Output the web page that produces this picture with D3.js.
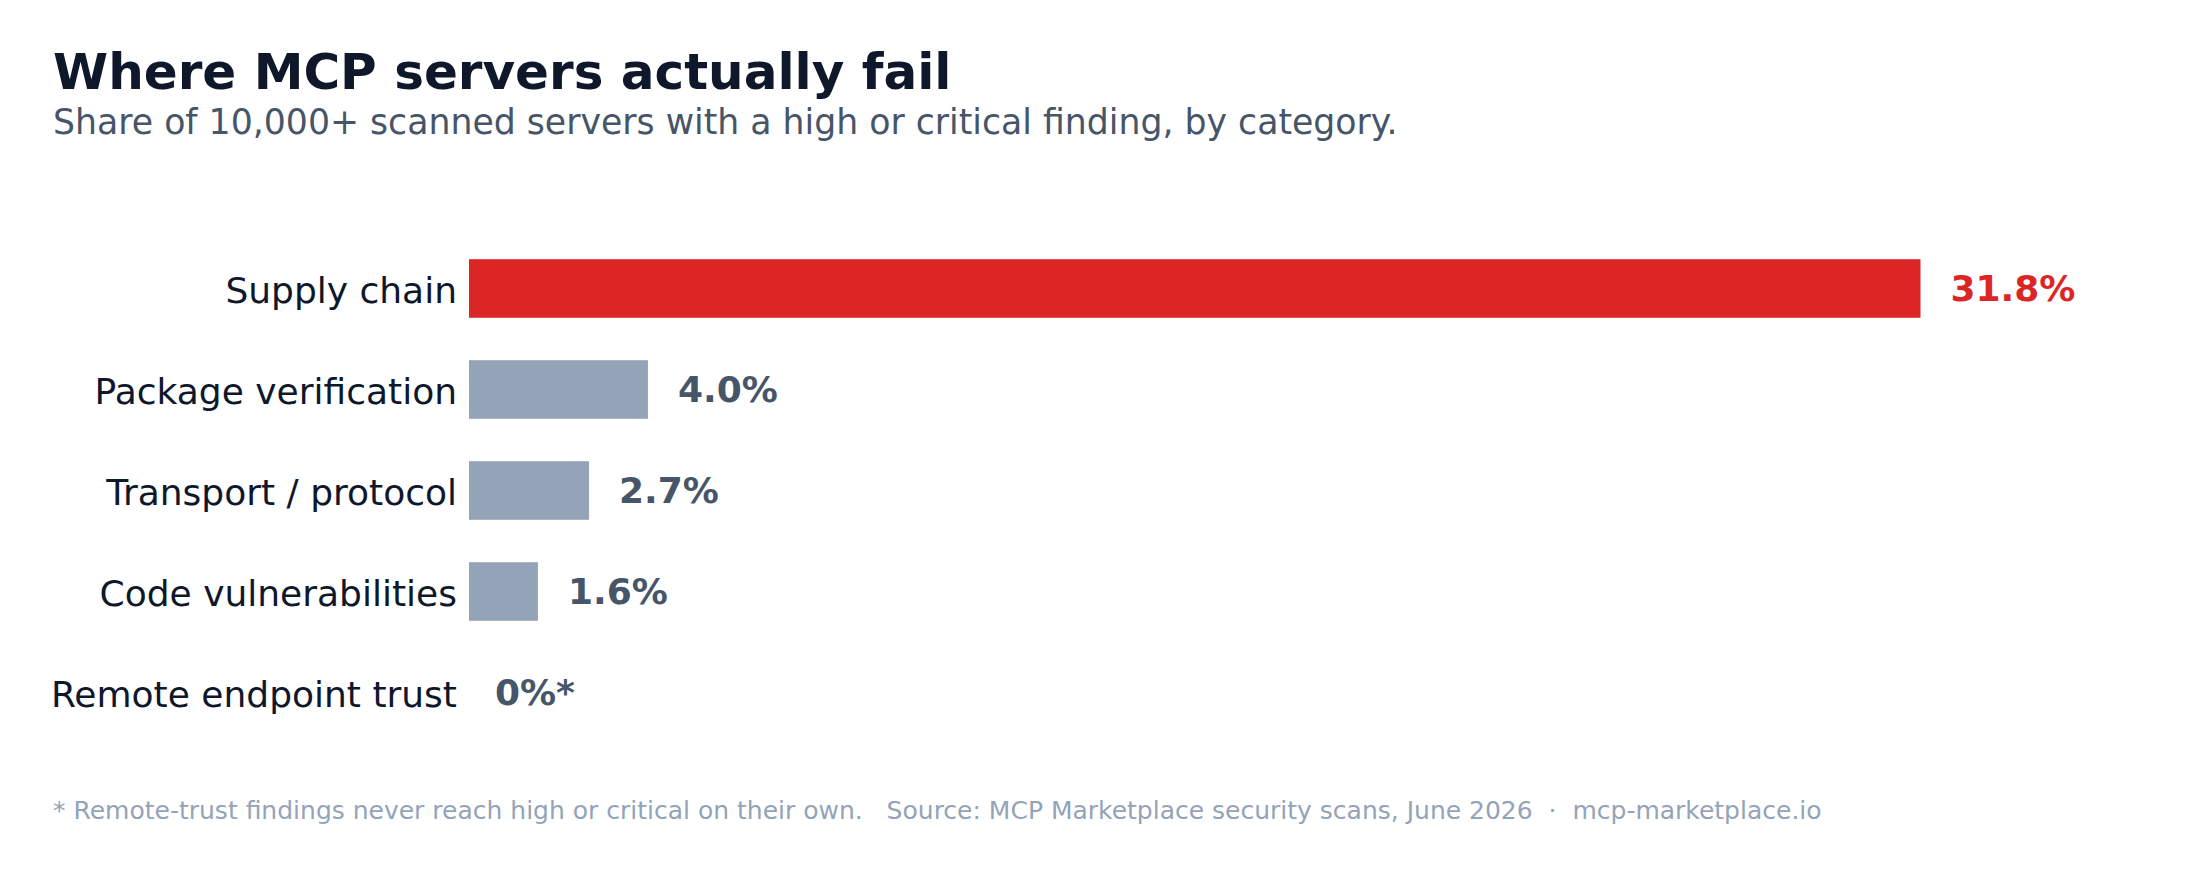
<!DOCTYPE html>
<html>
<head>
<meta charset="utf-8">
<script src="https://cdn.jsdelivr.net/npm/d3@7"></script>
<style>
  body { margin: 0; background: #fff; }
  svg text { font-family: "DejaVu Sans", sans-serif; }
</style>
</head>
<body>
<div id="chart-area"></div>
<script>
const categories = ["Supply chain", "Package verification", "Transport / protocol", "Code vulnerabilities", "Remote endpoint trust"]
const shares = [31.8, 3.92, 2.63, 1.51, 0]
const valueLabels = ["31.8%", "4.0%", "2.7%", "1.6%", "0%*"]
const highlight = ["Supply chain"]

const W = 2210, H = 873
const MARGIN = { LEFT: 469, RIGHT: 290, TOP: 238, BOTTOM: 130 }

const svg = d3.select("#chart-area").append("svg")
    .attr("width", W)
    .attr("height", H)

// Title + subtitle
svg.append("text")
    .attr("x", 53).attr("y", 89)
    .attr("font-size", "50px")
    .attr("font-weight", "bold")
    .attr("fill", "#0f172a")
    .text("Where MCP servers actually fail")
svg.append("text")
    .attr("x", 53).attr("y", 134)
    .attr("font-size", "34.7px")
    .attr("fill", "#475569")
    .text("Share of 10,000+ scanned servers with a high or critical finding, by category.")

// Scales
const x = d3.scaleLinear()
    .domain([0, d3.max(shares)])
    .range([MARGIN.LEFT, 1920.5])

const y = d3.scaleBand()
    .domain(categories)
    .range([MARGIN.TOP, MARGIN.TOP + 505])
    .paddingInner(0.42)
    .paddingOuter(0.21)

const rows = categories.map((c, i) => ({ cat: c, value: shares[i], label: valueLabels[i] }))

// Bars
svg.selectAll("rect.bar")
    .data(rows)
    .enter().append("rect")
    .attr("class", "bar")
    .attr("x", x(0))
    .attr("y", d => y(d.cat))
    .attr("width", d => x(d.value) - x(0))
    .attr("height", y.bandwidth())
    .attr("fill", d => highlight.includes(d.cat) ? "#dc2626" : "#94a3b8")

// Category labels
svg.selectAll("text.cat")
    .data(rows)
    .enter().append("text")
    .attr("class", "cat")
    .attr("x", x(0) - 12)
    .attr("y", d => y(d.cat) + y.bandwidth() / 2)
    .attr("dy", "0.4em")
    .attr("text-anchor", "end")
    .attr("font-size", "36px")
    .attr("fill", "#0f172a")
    .text(d => d.cat)

// Value labels
svg.selectAll("text.val")
    .data(rows)
    .enter().append("text")
    .attr("class", "val")
    .attr("x", d => x(d.value) + (d.value > 0 ? 30 : 26))
    .attr("y", d => y(d.cat) + y.bandwidth() / 2)
    .attr("dy", "0.35em")
    .attr("font-size", "36px")
    .attr("font-weight", "bold")
    .attr("fill", d => highlight.includes(d.cat) ? "#dc2626" : "#475569")
    .text(d => d.label)

// Footer
svg.append("text")
    .attr("x", 53).attr("y", 819)
    .attr("font-size", "25px")
    .attr("fill", "#94a3b8")
    .style("white-space", "pre")
    .text("* Remote-trust findings never reach high or critical on their own.   Source: MCP Marketplace security scans, June 2026  \u00b7  mcp-marketplace.io")
</script>
</body>
</html>
